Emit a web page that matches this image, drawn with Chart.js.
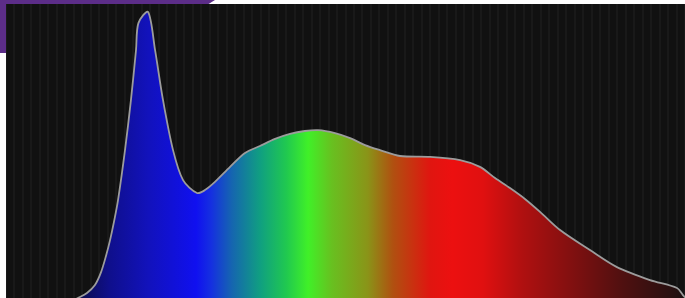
<!DOCTYPE html>
<html>
<head>
<meta charset="utf-8">
<script src="https://cdn.jsdelivr.net/npm/chart.js@4/dist/chart.umd.min.js"></script>
<style>
  html, body { margin: 0; padding: 0; background: #ffffff; width: 685px; height: 298px; overflow: hidden; }
  #topbar { position: absolute; left: 0; top: 0; width: 215px; height: 4px; background: #5c2d88;
            clip-path: polygon(0 0, 100% 0, 97% 100%, 0 100%); }
  #sidebar { position: absolute; left: 0; top: 0; width: 6px; height: 53px; background: #5c2d88; }
  #wrap { position: absolute; left: 6px; top: 4px; width: 679px; height: 294px; background: #111111; }
  canvas { display: block; }
</style>
</head>
<body>
<div id="topbar"></div>
<div id="sidebar"></div>
<div id="wrap"><canvas id="c" width="679" height="294"></canvas></div>
<script>
// Wavelength (nm) and relative intensity (%)
const wavelengths = [375, 412, 422.4, 427.7, 432.4, 436.0, 438.9, 441.3, 443.6, 446.0, 450.1, 453.6, 456.6, 458.0, 463.7,
  467.8, 472.5, 478.4, 484.3, 492.5, 497.2, 503.1, 512.0, 520.8, 529.6, 538.5, 547.3, 556.1, 563.8,
  573.8, 582.7, 591.5, 600.3, 612.1, 629.8, 647.5, 659.2, 668.1, 676.9, 685.7, 694.6, 706.4, 724.0,
  739.9, 759.4, 775.3, 778.8, 785];
const intensity = [-4, -3, 0, 1.7, 4.4, 8.8, 14.3, 19.7, 25.9, 33.3, 50.3, 67.3, 84.4, 93.5, 97.3,
  84.4, 67.3, 50.3, 40.1, 35.7, 36.7, 39.5, 44.6, 49.3, 51.7, 54.1, 55.8, 56.8, 57.1,
  56.1, 54.4, 52.0, 50.3, 48.3, 48.0, 46.9, 44.6, 40.8, 37.4, 33.7, 29.3, 23.1, 16.3,
  10.5, 6.1, 3.4, 1.0, -3];
// Spectrum colour stops (wavelength nm, colour)
const stopNm = [422, 441, 464, 492, 501, 513, 530, 545, 558, 572, 593, 608, 630, 643, 661, 684, 714, 743, 772, 780];
const stopColors = ['#0c0c48', '#0f0f8c', '#1212bc', '#1010f0', '#1530e0', '#1565b0', '#10a080', '#20c850',
  '#40f028', '#68c020', '#8a9418', '#b05010', '#e01510', '#ec1010', '#e01010', '#b01010', '#801010',
  '#501010', '#281010', '#1a1010'];
const xMin = 380, xMax = 780;

function spectrumFill(ctx) {
  const chart = ctx.chart;
  const area = chart.chartArea;
  if (!area) return '#1010f0';
  const xs = chart.scales.x;
  const g = chart.ctx.createLinearGradient(area.left, 0, area.right, 0);
  const w = area.right - area.left;
  stopNm.forEach((nm, i) => {
    const p = (xs.getPixelForValue(nm) - area.left) / w;
    g.addColorStop(Math.min(1, Math.max(0, p)), stopColors[i]);
  });
  return g;
}

new Chart(document.getElementById('c'), {
  type: 'line',
  data: {
    datasets: [{
      data: wavelengths.map((w, i) => ({ x: w, y: intensity[i] })),
      borderColor: '#9c9c9c',
      borderWidth: 1.8,
      backgroundColor: spectrumFill,
      fill: 'start',
      pointRadius: 0,
      tension: 0.3
    }]
  },
  options: {
    responsive: false,
    animation: false,
    events: [],
    layout: { padding: 0 },
    plugins: { legend: { display: false }, tooltip: { enabled: false } },
    scales: {
      x: {
        type: 'linear', min: xMin, max: xMax,
        ticks: { display: false, stepSize: 5 },
        grid: { color: 'rgba(255,255,255,0.035)', lineWidth: 2, drawTicks: false, tickLength: 0 },
        border: { display: false }
      },
      y: {
        min: 0, max: 100,
        display: false
      }
    }
  }
});
</script>
</body>
</html>
